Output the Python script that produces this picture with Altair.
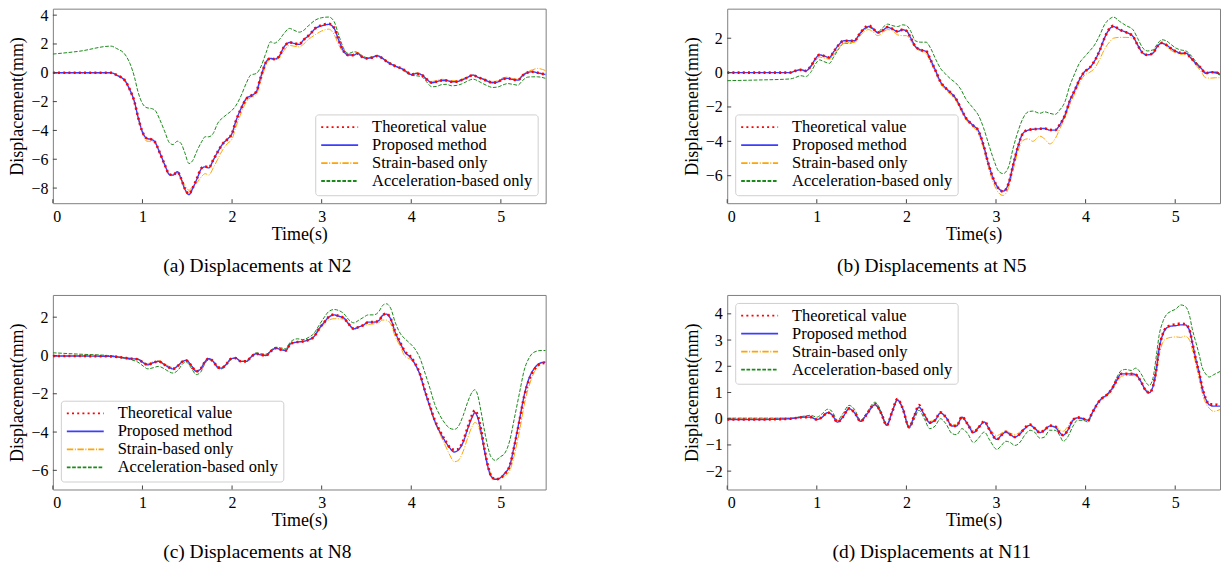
import altair as alt
import pandas as pd

SERIES = ["Theoretical value", "Proposed method", "Strain-based only", "Acceleration-based only"]
COLORS = ["#ff0000", "#3d3dff", "#ffa500", "#1a8a1a"]
DASHES = [[2, 3.2], [1, 0], [6.4, 1.6, 1, 1.6], [3.7, 1.6]]
WIDTHS = {"Theoretical value": 2.6, "Proposed method": 1.4,
          "Strain-based only": 1.0, "Acceleration-based only": 1.0}
DRAW_ORDER = ["Acceleration-based only", "Strain-based only", "Proposed method", "Theoretical value"]
XTICKS = [0, 1, 2, 3, 4, 5]

# ---------------- Panel (a) N2 ----------------
TA = [0, 0.3, 0.65, 0.71, 0.81, 0.86, 0.91, 0.95, 1.0, 1.05,
      1.10, 1.14, 1.19, 1.25, 1.30, 1.34, 1.39, 1.43, 1.47, 1.52,
      1.56, 1.61, 1.66, 1.70, 1.74, 1.79, 1.84, 1.90, 1.95, 2.0,
      2.04, 2.10, 2.16, 2.21, 2.27, 2.32, 2.38, 2.43, 2.47, 2.52,
      2.58, 2.64, 2.69, 2.75, 2.80, 2.86, 2.93, 3.0, 3.08, 3.14,
      3.19, 3.25, 3.30, 3.36, 3.40, 3.45, 3.51, 3.56, 3.62, 3.67,
      3.73, 3.78, 3.84, 3.89, 3.95, 4.0, 4.06, 4.12, 4.17, 4.23,
      4.28, 4.34, 4.39, 4.45, 4.50, 4.56, 4.62, 4.69, 4.74, 4.80,
      4.85, 4.91, 4.97, 5.02, 5.08, 5.13, 5.19, 5.24, 5.30, 5.35,
      5.41, 5.5]
RA = [0, 0, 0, -0.15, -0.58, -1.18, -2.0, -3.05, -4.1, -4.55,
      -4.62, -4.8, -5.5, -6.4, -7.05, -7.1, -6.88, -7.32, -8.0, -8.4,
      -8.0, -7.3, -6.6, -6.5, -6.58, -6.05, -5.48, -4.9, -4.6, -4.2,
      -3.4, -2.5, -1.8, -1.6, -1.3, -0.3, 0.75, 1.0, 0.95, 1.1,
      1.8, 2.12, 2.05, 1.98, 2.3, 2.62, 3.1, 3.3, 3.4, 3.1,
      2.25, 1.45, 1.22, 1.22, 1.33, 1.1, 1.0, 1.05, 1.17, 1.04,
      0.76, 0.58, 0.42, 0.3, 0.07, -0.12, -0.06, -0.16, -0.44, -0.69,
      -0.62, -0.53, -0.53, -0.62, -0.62, -0.51, -0.35, -0.16, -0.3, -0.44,
      -0.58, -0.69, -0.62, -0.44, -0.39, -0.46, -0.51, -0.21, 0.02, 0.07,
      0.0, -0.12]
BA = [0, 0, 0, -0.16, -0.6, -1.2, -2.0, -3.05, -4.1, -4.56,
      -4.63, -4.8, -5.5, -6.4, -7.06, -7.1, -6.87, -7.34, -8.03, -8.45,
      -8.03, -7.34, -6.64, -6.53, -6.6, -6.06, -5.49, -4.9, -4.6, -4.2,
      -3.4, -2.48, -1.78, -1.6, -1.32, -0.3, 0.76, 1.0, 0.95, 1.1,
      1.8, 2.1, 2.04, 1.97, 2.3, 2.6, 3.08, 3.26, 3.36, 3.08,
      2.27, 1.46, 1.23, 1.23, 1.34, 1.11, 1.0, 1.06, 1.18, 1.04,
      0.76, 0.58, 0.42, 0.3, 0.07, -0.12, -0.05, -0.16, -0.44, -0.69,
      -0.62, -0.53, -0.53, -0.62, -0.62, -0.51, -0.35, -0.16, -0.3, -0.44,
      -0.58, -0.69, -0.62, -0.44, -0.39, -0.46, -0.51, -0.21, 0.02, 0.07,
      0.0, -0.12]
OA = [0, 0, 0, -0.15, -0.55, -1.15, -2.0, -3.1, -4.2, -4.75,
      -4.75, -4.9, -5.5, -6.4, -7.05, -7.1, -6.9, -7.3, -7.8, -8.15,
      -7.9, -7.6, -7.2, -7.0, -7.1, -6.6, -6.0, -5.3, -4.9, -4.6,
      -3.8, -2.8, -2.0, -1.7, -1.5, -0.6, 0.55, 0.95, 0.9, 1.0,
      1.55, 1.9, 1.85, 1.8, 2.0, 2.35, 2.65, 2.9, 3.03, 2.65,
      1.95, 1.4, 1.3, 1.35, 1.4, 1.2, 1.05, 1.1, 1.2, 1.1,
      0.8, 0.6, 0.4, 0.25, 0.0, -0.12, 0.0, -0.1, -0.4, -0.6,
      -0.55, -0.45, -0.48, -0.55, -0.55, -0.45, -0.3, -0.15, -0.3, -0.4,
      -0.5, -0.6, -0.55, -0.35, -0.3, -0.4, -0.45, -0.15, 0.1, 0.2,
      0.3, 0.15]
GA = [1.3, 1.5, 1.85, 1.69, 1.23, 0.65, -0.28, -1.32, -2.13, -2.43,
      -2.48, -2.6, -3.2, -4.1, -4.85, -4.98, -4.75, -4.9, -5.5, -6.3,
      -6.1, -5.4, -4.79, -4.44, -4.44, -4.2, -3.5, -3.1, -2.85, -2.6,
      -2.3, -1.6, -0.7, -0.15, -0.05, 0.4, 1.4, 2.15, 2.05, 2.25,
      2.73, 3.08, 2.96, 2.82, 2.95, 3.31, 3.66, 3.82, 3.87, 3.54,
      2.62, 1.64, 1.34, 1.46, 1.41, 1.2, 1.04, 1.1, 1.18, 1.0,
      0.8, 0.65, 0.42, 0.25, 0.0, -0.18, -0.21, -0.28, -0.62, -0.97,
      -0.95, -0.82, -0.8, -0.9, -0.88, -0.78, -0.6, -0.44, -0.55, -0.75,
      -0.9, -1.02, -0.98, -0.85, -0.75, -0.8, -0.86, -0.55, -0.3, -0.28,
      -0.28, -0.39]

# ---------------- Panel (b) N5 ----------------
TB = [0, 0.35, 0.7, 0.76, 0.82, 0.875, 0.93, 0.99, 1.03, 1.08,
      1.14, 1.19, 1.25, 1.30, 1.36, 1.42, 1.47, 1.53, 1.58, 1.62,
      1.68, 1.73, 1.79, 1.84, 1.90, 1.96, 2.0, 2.05, 2.10, 2.16,
      2.22, 2.27, 2.33, 2.38, 2.44, 2.50, 2.55, 2.61, 2.66, 2.75,
      2.80, 2.86, 2.91, 2.97, 3.03, 3.08, 3.14, 3.19, 3.25, 3.30,
      3.36, 3.41, 3.49, 3.54, 3.60, 3.66, 3.71, 3.77, 3.82, 3.88,
      3.93, 3.99, 4.04, 4.10, 4.16, 4.21, 4.27, 4.31, 4.38, 4.45,
      4.53, 4.58, 4.64, 4.69, 4.75, 4.80, 4.85, 4.90, 4.95, 5.01,
      5.06, 5.12, 5.17, 5.23, 5.29, 5.34, 5.40, 5.45, 5.5]
RB = [0, 0, 0, 0.1, 0.16, 0.1, 0.35, 0.84, 1.03, 0.97,
      0.88, 1.23, 1.65, 1.85, 1.85, 1.85, 2.2, 2.58, 2.74, 2.6,
      2.33, 2.43, 2.65, 2.56, 2.4, 2.5, 2.43, 2.0, 1.52, 1.32,
      1.25, 0.74, 0.06, -0.53, -0.91, -1.2, -1.5, -2.1, -2.6, -3.1,
      -3.35, -4.22, -5.2, -6.17, -6.75, -6.92, -6.46, -5.4, -4.22, -3.54,
      -3.33, -3.3, -3.27, -3.25, -3.33, -3.35, -3.05, -2.47, -1.69, -1.01,
      -0.43, 0.06, 0.25, 0.68, 1.32, 2.0, 2.58, 2.72, 2.5, 2.35,
      2.1, 1.61, 1.13, 1.03, 1.13, 1.52, 1.73, 1.61, 1.42, 1.23,
      1.15, 1.13, 0.88, 0.54, 0.25, -0.04, 0.02, 0.02, -0.1]
BB = [0, 0, 0, 0.1, 0.16, 0.1, 0.35, 0.84, 1.03, 0.97,
      0.88, 1.23, 1.65, 1.85, 1.85, 1.85, 2.2, 2.55, 2.68, 2.59,
      2.33, 2.43, 2.63, 2.55, 2.39, 2.49, 2.43, 2.0, 1.52, 1.32,
      1.23, 0.74, 0.06, -0.53, -0.91, -1.2, -1.5, -2.1, -2.6, -3.1,
      -3.35, -4.22, -5.2, -6.17, -6.75, -6.9, -6.46, -5.4, -4.22, -3.54,
      -3.35, -3.3, -3.27, -3.25, -3.35, -3.35, -3.05, -2.47, -1.69, -1.01,
      -0.43, 0.06, 0.25, 0.68, 1.32, 2.0, 2.55, 2.68, 2.49, 2.35,
      2.1, 1.61, 1.13, 1.03, 1.13, 1.52, 1.71, 1.61, 1.42, 1.23,
      1.13, 1.13, 0.88, 0.54, 0.25, -0.04, 0.02, 0.02, -0.1]
OB = [0, 0, 0, 0.1, 0.2, 0.12, 0.3, 0.7, 0.9, 0.85,
      0.78, 1.05, 1.45, 1.7, 1.75, 1.75, 2.05, 2.4, 2.5, 2.4,
      2.15, 2.3, 2.5, 2.45, 2.2, 2.15, 2.15, 1.85, 1.45, 1.25,
      1.1, 0.6, -0.05, -0.65, -1.0, -1.3, -1.6, -2.2, -2.7, -3.2,
      -3.5, -4.4, -5.4, -6.4, -7.0, -7.15, -6.7, -5.7, -4.5, -3.95,
      -3.85, -4.0, -3.7, -3.85, -4.15, -3.85, -3.3, -2.6, -1.9, -1.2,
      -0.6, -0.15, 0.0, 0.25, 0.8, 1.35, 1.8, 2.0, 2.05, 2.05,
      2.0, 1.65, 1.15, 1.05, 1.1, 1.5, 1.7, 1.55, 1.3, 1.15,
      1.05, 1.1, 0.85, 0.45, 0.05, -0.3, -0.32, -0.3, -0.3]
GB = [-0.47, -0.43, -0.37, -0.29, -0.18, -0.23, 0.0, 0.54, 0.74, 0.64,
      0.54, 0.93, 1.42, 1.71, 1.71, 1.81, 2.16, 2.49, 2.63, 2.55,
      2.35, 2.59, 2.82, 2.74, 2.68, 2.78, 2.74, 2.39, 1.85, 1.77,
      1.77, 1.42, 0.74, 0.25, -0.1, -0.4, -0.6, -1.0, -1.5, -2.1,
      -2.45, -3.2, -4.03, -5.0, -5.74, -5.88, -5.49, -4.42, -3.35, -2.67,
      -2.28, -2.24, -2.37, -2.28, -2.37, -2.43, -2.18, -1.69, -0.82, -0.04,
      0.54, 0.93, 1.23, 1.61, 2.2, 2.78, 3.13, 3.23, 2.98, 2.74,
      2.49, 2.0, 1.42, 1.26, 1.32, 1.65, 1.91, 1.85, 1.65, 1.42,
      1.32, 1.26, 1.03, 0.64, 0.25, 0.02, 0.02, -0.04, -0.14]

# ---------------- Panel (c) N8 ----------------
TC = [0, 0.29, 0.66, 0.79, 0.88, 0.95, 1.01, 1.06, 1.12, 1.18,
      1.23, 1.29, 1.34, 1.40, 1.45, 1.49, 1.55, 1.60, 1.65, 1.69,
      1.74, 1.79, 1.84, 1.88, 1.93, 1.99, 2.04, 2.10, 2.16, 2.21,
      2.27, 2.32, 2.38, 2.43, 2.49, 2.54, 2.60, 2.65, 2.73, 2.79,
      2.86, 2.91, 2.97, 3.03, 3.08, 3.14, 3.19, 3.25, 3.30, 3.36,
      3.41, 3.47, 3.52, 3.58, 3.64, 3.68, 3.72, 3.77, 3.82, 3.88,
      3.93, 3.99, 4.04, 4.10, 4.15, 4.21, 4.26, 4.32, 4.38, 4.43,
      4.48, 4.52, 4.58, 4.63, 4.68, 4.71, 4.74, 4.78, 4.82, 4.86,
      4.89, 4.94, 4.99, 5.04, 5.10, 5.15, 5.21, 5.26, 5.32, 5.37,
      5.45, 5.5]
RC = [-0.03, -0.03, -0.05, -0.12, -0.17, -0.2, -0.38, -0.49, -0.38, -0.31,
      -0.43, -0.61, -0.7, -0.52, -0.31, -0.26, -0.56, -0.83, -0.7, -0.38,
      -0.17, -0.31, -0.61, -0.66, -0.49, -0.17, -0.14, -0.31, -0.31, -0.09,
      0.09, 0.03, 0.0, 0.21, 0.38, 0.31, 0.26, 0.61, 0.7, 0.73,
      0.83, 0.96, 1.39, 1.74, 2.02, 2.14, 2.06, 1.95, 1.65, 1.39,
      1.48, 1.6, 1.74, 1.74, 1.83, 2.1, 2.18, 1.93, 1.25, 0.65,
      0.2, -0.05, -0.4, -1.0, -1.8, -2.65, -3.35, -3.95, -4.45, -4.8,
      -4.92, -4.9, -4.45, -3.75, -3.1, -2.86, -3.1, -3.9, -4.95, -5.85,
      -6.28, -6.47, -6.42, -6.2, -5.75, -4.75, -3.35, -2.15, -1.2, -0.75,
      -0.42, -0.38]
BC = [-0.03, -0.03, -0.05, -0.12, -0.17, -0.2, -0.38, -0.49, -0.38, -0.31,
      -0.43, -0.61, -0.7, -0.52, -0.31, -0.26, -0.56, -0.83, -0.7, -0.38,
      -0.17, -0.31, -0.61, -0.66, -0.49, -0.17, -0.14, -0.31, -0.31, -0.09,
      0.09, 0.03, 0.0, 0.21, 0.38, 0.31, 0.26, 0.61, 0.7, 0.73,
      0.83, 0.96, 1.39, 1.74, 2.0, 2.12, 2.05, 1.95, 1.65, 1.39,
      1.48, 1.6, 1.74, 1.74, 1.83, 2.09, 2.16, 1.91, 1.22, 0.61,
      0.17, -0.09, -0.43, -1.04, -1.83, -2.7, -3.39, -4.0, -4.49, -4.83,
      -5.04, -4.96, -4.52, -3.83, -3.22, -2.99, -3.22, -4.0, -5.04, -5.91,
      -6.3, -6.47, -6.4, -6.17, -5.74, -4.7, -3.3, -2.09, -1.13, -0.7,
      -0.38, -0.35]
OC = [-0.03, -0.03, -0.05, -0.1, -0.15, -0.18, -0.33, -0.42, -0.33, -0.27,
      -0.38, -0.55, -0.65, -0.48, -0.28, -0.24, -0.52, -0.78, -0.66, -0.36,
      -0.17, -0.3, -0.58, -0.63, -0.47, -0.18, -0.14, -0.3, -0.3, -0.1,
      0.08, 0.05, 0.03, 0.22, 0.38, 0.35, 0.3, 0.55, 0.7, 0.75,
      0.83, 0.93, 1.3, 1.65, 1.85, 1.92, 1.92, 1.9, 1.65, 1.45,
      1.5, 1.55, 1.62, 1.65, 1.72, 1.85, 1.85, 1.65, 1.0, 0.45,
      -0.05, -0.2, -0.45, -1.05, -1.85, -2.75, -3.45, -4.1, -4.7, -5.2,
      -5.55, -5.5, -5.0, -4.3, -3.7, -3.5, -3.6, -4.2, -5.0, -5.8,
      -6.2, -6.45, -6.45, -6.3, -6.0, -5.2, -3.9, -2.6, -1.5, -0.9,
      -0.4, -0.3]
GC = [0.14, 0.07, -0.02, -0.14, -0.23, -0.35, -0.56, -0.7, -0.64, -0.57,
      -0.66, -0.83, -0.92, -0.75, -0.43, -0.35, -0.7, -1.0, -0.87, -0.49,
      -0.21, -0.35, -0.66, -0.7, -0.52, -0.21, -0.14, -0.31, -0.28, -0.05,
      0.14, 0.09, 0.07, 0.26, 0.43, 0.4, 0.35, 0.7, 0.87, 0.83,
      0.96, 1.13, 1.57, 2.0, 2.3, 2.4, 2.35, 2.17, 1.88, 1.7,
      1.83, 2.0, 2.12, 2.12, 2.3, 2.61, 2.7, 2.47, 1.74, 1.13,
      0.87, 0.61, 0.35, -0.17, -0.87, -1.74, -2.52, -3.13, -3.57, -3.8,
      -3.86, -3.74, -3.13, -2.43, -1.91, -1.79, -2.05, -2.96, -4.0, -4.87,
      -5.3, -5.48, -5.3, -5.13, -4.43, -3.3, -1.91, -0.78, -0.09, 0.17,
      0.26, 0.26]

# ---------------- Panel (d) N11 ----------------
TD = [0, 0.35, 0.7, 0.86, 0.93, 1.0, 1.06, 1.12, 1.17, 1.23,
      1.29, 1.36, 1.42, 1.49, 1.55, 1.65, 1.72, 1.78, 1.84, 1.90,
      1.96, 2.03, 2.09, 2.14, 2.20, 2.26, 2.32, 2.38, 2.44, 2.51,
      2.56, 2.62, 2.68, 2.75, 2.80, 2.87, 2.93, 3.01, 3.06, 3.11,
      3.16, 3.21, 3.27, 3.32, 3.38, 3.43, 3.49, 3.54, 3.60, 3.66,
      3.71, 3.75, 3.80, 3.86, 3.91, 3.97, 4.03, 4.06, 4.12, 4.17,
      4.23, 4.29, 4.34, 4.40, 4.45, 4.51, 4.56, 4.62, 4.67, 4.71,
      4.75, 4.79, 4.82, 4.86, 4.90, 4.95, 5.01, 5.06, 5.11, 5.16,
      5.19, 5.23, 5.27, 5.30, 5.34, 5.38, 5.43, 5.5]
RD = [-0.03, -0.03, 0.0, 0.06, 0.06, -0.03, 0.06, 0.24, 0.15, -0.13,
      0.06, 0.4, 0.23, -0.1, 0.13, 0.56, 0.19, -0.25, 0.25, 0.75,
      0.38, -0.32, 0.13, 0.52, 0.15, -0.15, -0.06, 0.24, 0.06, -0.28,
      -0.28, 0.08, -0.19, -0.53, -0.36, -0.1, -0.44, -0.79, -0.63, -0.5,
      -0.61, -0.7, -0.57, -0.36, -0.22, -0.36, -0.53, -0.44, -0.26, -0.3,
      -0.53, -0.63, -0.44, -0.04, 0.05, 0.0, -0.06, 0.13, 0.51, 0.74,
      0.89, 1.12, 1.42, 1.71, 1.71, 1.71, 1.68, 1.4, 1.08, 0.99,
      1.21, 1.9, 2.66, 3.22, 3.48, 3.56, 3.6, 3.63, 3.61, 3.38,
      2.92, 2.28, 1.71, 1.21, 0.78, 0.55, 0.55, 0.5]
BD = [-0.03, -0.03, 0.0, 0.06, 0.06, -0.03, 0.06, 0.23, 0.15, -0.13,
      0.06, 0.38, 0.23, -0.1, 0.13, 0.53, 0.19, -0.25, 0.25, 0.72,
      0.38, -0.32, 0.13, 0.44, 0.15, -0.15, -0.06, 0.22, 0.06, -0.28,
      -0.28, 0.06, -0.19, -0.53, -0.36, -0.13, -0.44, -0.79, -0.63, -0.51,
      -0.61, -0.7, -0.57, -0.38, -0.25, -0.36, -0.53, -0.44, -0.28, -0.32,
      -0.53, -0.63, -0.44, -0.06, 0.03, 0.0, -0.06, 0.13, 0.51, 0.74,
      0.89, 1.12, 1.42, 1.71, 1.71, 1.71, 1.68, 1.4, 1.08, 0.99,
      1.21, 1.9, 2.66, 3.2, 3.45, 3.53, 3.55, 3.58, 3.58, 3.36,
      2.92, 2.28, 1.71, 1.21, 0.76, 0.53, 0.48, 0.48]
OD = [0.02, 0.02, 0.02, 0.05, 0.05, -0.02, 0.05, 0.2, 0.14, -0.1,
      0.06, 0.34, 0.22, -0.08, 0.13, 0.5, 0.2, -0.22, 0.25, 0.68,
      0.38, -0.28, 0.13, 0.42, 0.17, -0.1, -0.03, 0.2, 0.05, -0.22,
      -0.24, 0.02, -0.15, -0.45, -0.32, -0.12, -0.38, -0.65, -0.55, -0.47,
      -0.55, -0.6, -0.5, -0.35, -0.25, -0.35, -0.48, -0.4, -0.3, -0.3,
      -0.42, -0.48, -0.3, -0.02, 0.05, 0.02, -0.05, 0.1, 0.45, 0.7,
      0.85, 1.05, 1.35, 1.62, 1.65, 1.65, 1.63, 1.4, 1.12, 1.05,
      1.2, 1.75, 2.4, 2.9, 3.05, 3.1, 3.12, 3.1, 3.15, 3.0,
      2.65, 2.1, 1.5, 1.0, 0.6, 0.4, 0.28, 0.35]
GD = [0.02, 0.02, 0.02, 0.1, 0.13, 0.06, 0.19, 0.36, 0.28, -0.06,
      0.19, 0.51, 0.36, -0.06, 0.19, 0.63, 0.25, -0.25, 0.25, 0.7,
      0.36, -0.36, 0.0, 0.32, 0.0, -0.38, -0.28, 0.0, -0.19, -0.57,
      -0.61, -0.38, -0.55, -0.91, -0.76, -0.51, -0.82, -1.17, -1.02, -0.86,
      -0.91, -1.02, -0.89, -0.63, -0.44, -0.51, -0.74, -0.7, -0.44, -0.44,
      -0.63, -0.86, -0.7, -0.28, -0.06, -0.06, -0.13, 0.1, 0.51, 0.76,
      0.91, 1.14, 1.52, 1.84, 1.88, 1.84, 1.93, 1.71, 1.4, 1.27,
      1.52, 2.41, 3.17, 3.68, 3.96, 4.09, 4.19, 4.34, 4.29, 3.93,
      3.43, 2.92, 2.41, 1.97, 1.71, 1.59, 1.68, 1.8]

W, H = 494, 195
FONT = "Liberation Serif"


def panel(t, th, pr, st, ac, ydom, yticks, orient, caption):
    rows = []
    for name, vals in zip(SERIES, [th, pr, st, ac]):
        for ti, vi in zip(t, vals):
            rows.append({"t": ti, "v": vi, "s": name})
    df = pd.DataFrame(rows)
    xs = alt.Scale(domain=[0, 5.5], nice=False, zero=False)
    ys = alt.Scale(domain=ydom, nice=False, zero=False)
    xaxis = alt.Axis(values=XTICKS, format="d", title="Time(s)",
                     labelFont=FONT, labelFontSize=16, titleFont=FONT)
    yaxis = alt.Axis(values=yticks, format="d", title="Displacement(mm)",
                     labelFont=FONT, labelFontSize=16, titleFont=FONT)
    leg = alt.Legend(orient=orient, offset=8, title=None, fillColor="white",
                     strokeColor="#cfcfcf", cornerRadius=3, padding=5,
                     labelFont=FONT, labelFontSize=16.5, labelColor="black",
                     symbolType="stroke", symbolSize=1369, symbolStrokeWidth=1.8,
                     labelOffset=13, rowPadding=0, clipHeight=15.5, labelLimit=400)
    base = alt.Chart(df).encode(
        x=alt.X("t:Q", scale=xs, axis=xaxis),
        y=alt.Y("v:Q", scale=ys, axis=yaxis),
        color=alt.Color("s:N", scale=alt.Scale(domain=SERIES, range=COLORS), legend=leg),
        strokeDash=alt.StrokeDash("s:N", scale=alt.Scale(domain=SERIES, range=DASHES), legend=leg),
    )
    layers = [
        base.transform_filter(alt.datum.s == name).mark_line(
            strokeWidth=WIDTHS[name], interpolate="monotone", clip=True)
        for name in DRAW_ORDER
    ]
    xt = alt.Chart(pd.DataFrame({"t": XTICKS})).mark_rule(color="#444", strokeWidth=1).encode(
        x=alt.X("t:Q", scale=xs, axis=xaxis), y=alt.value(H), y2=alt.value(H - 4))
    yt = alt.Chart(pd.DataFrame({"v": yticks})).mark_rule(color="#444", strokeWidth=1).encode(
        y=alt.Y("v:Q", scale=ys, axis=yaxis), x=alt.value(0), x2=alt.value(4))
    return alt.layer(*layers, xt, yt).properties(
        width=W, height=H,
        title=alt.TitleParams(caption, orient="bottom", anchor="middle", frame="group",
                              font=FONT, fontSize=19.5, fontWeight="normal",
                              color="black", offset=14, dx=-42),
    )


pa = panel(TA, RA, BA, OA, GA, [-9.05, 4.45], [-8, -6, -4, -2, 0, 2, 4],
           "bottom-right", "(a) Displacements at N2")
pb = panel(TB, RB, BB, OB, GB, [-7.6, 3.72], [-6, -4, -2, 0, 2],
           "bottom-left", "(b) Displacements at N5")
pc = panel(TC, RC, BC, OC, GC, [-7.0, 3.16], [-6, -4, -2, 0, 2],
           "bottom-left", "(c) Displacements at N8")
pd_ = panel(TD, RD, BD, OD, GD, [-2.7, 4.72], [-2, -1, 0, 1, 2, 3, 4],
            "top-left", "(d) Displacements at N11")

IND = dict(x="independent", y="independent", color="independent", strokeDash="independent")
row1 = alt.hconcat(pa, pb, spacing=136).resolve_scale(**IND).resolve_legend(color="independent", strokeDash="independent")
row2 = alt.hconcat(pc, pd_, spacing=136).resolve_scale(**IND).resolve_legend(color="independent", strokeDash="independent")

chart = (
    alt.vconcat(row1, row2, spacing=18)
    .resolve_scale(**IND)
    .resolve_legend(color="independent", strokeDash="independent")
    .properties(padding={"left": 8, "top": 5, "right": 0, "bottom": 0}, background="white")
    .configure_view(stroke="#808080", strokeWidth=1)
    .configure_axis(domain=False, ticks=False, grid=False, labelFont=FONT, labelFontSize=16,
                    labelColor="black", titleFont=FONT, titleFontSize=18,
                    titleFontWeight="normal", titleColor="black", labelPadding=5)
    .configure_axisX(titlePadding=1)
    .configure_axisY(titlePadding=4)
)

chart.save("out.html", embed_options={"renderer": "svg", "actions": False})
